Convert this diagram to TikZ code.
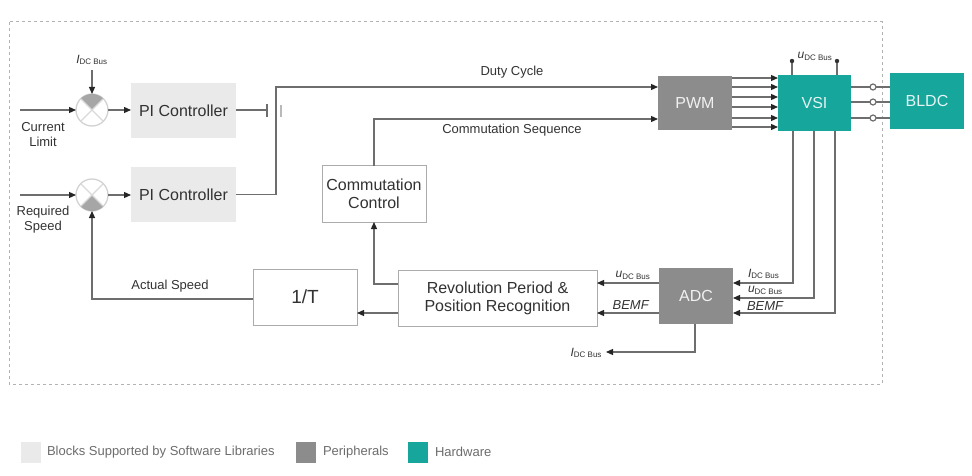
\documentclass[tikz,border=0pt]{standalone}
\usepackage{fontspec}
\setmainfont{Liberation Sans}
\usetikzlibrary{arrows.meta}
\definecolor{teal1}{RGB}{22,166,155}
\definecolor{dgray}{RGB}{140,140,140}
\definecolor{lgray}{RGB}{234,234,234}
\definecolor{lnc}{RGB}{110,110,110}
\definecolor{txt}{RGB}{50,50,50}
\newcommand\Ibus{\textit{I}\textsubscript{DC Bus}}
\newcommand\Ubus{\textit{u}\textsubscript{DC Bus}}
\begin{document}
\begin{tikzpicture}[x=1pt,y=-1pt,
  every node/.style={outer sep=0pt, text=txt},
  ln/.style={draw=lnc, line width=1.2pt},
  arr/.style={ln, -{Triangle[length=7pt,width=6pt,color=black!85]}},
  lab/.style={font=\fontsize{13}{15}\selectfont, inner sep=1pt},
  sub/.style={font=\fontsize{12}{14}\selectfont, inner sep=1pt},
  bx/.style={minimum width=#1, minimum height=56pt, inner sep=0pt, font=\fontsize{16}{18}\selectfont},
  sw/.style={bx=#1, fill=lgray},
  per/.style={bx=#1, fill=dgray, text=white!88!dgray},
  hw/.style={bx=#1, fill=teal1, text=white!88!teal1},
  wb/.style={bx=#1, draw=gray!65, line width=1pt, fill=white, align=center},
  sumj/.style={circle, draw=gray!35, line width=1.3pt, minimum size=32pt, inner sep=0pt, fill=white},
  leg/.style={minimum width=20pt, minimum height=21pt, inner sep=0pt},
  legt/.style={lab, anchor=west, text=gray!85!black},
]
\useasboundingbox (0,0) rectangle (972,476);
% frame
\draw[gray!60, line width=1pt, dash pattern=on 3pt off 3pt] (9,22) rectangle (882,384);

% blocks
\node[sw=105pt, minimum height=55pt] (pi1) at (183.5,110.5) {PI Controller};
\node[sw=105pt, minimum height=55pt] (pi2) at (183.5,194.5) {PI Controller};
\node[wb=104pt] (cc) at (374,194) {Commutation\\Control};
\node[per=74pt, minimum height=54pt] (pwm) at (695,103) {PWM};
\node[hw=73pt] (vsi) at (814.5,103) {VSI};
\node[hw=74pt] (bldc) at (927,101) {BLDC};
\node[per=74pt] (adc) at (696,296) {ADC};
\node[wb=199pt] (rev) at (497.5,298) {Revolution Period \&\\Position Recognition};
\node[wb=104pt, font=\fontsize{19}{22}\selectfont] (tt) at (305,297) {1/T};

% summing junctions
\node[sumj] (s1) at (92,110) {};
\node[sumj] (s2) at (92,195) {};
\fill[gray!70] (s1.center) \foreach \a in {45,50,...,135} {-- (s1.\a)} -- cycle;
\fill[gray!70] (s2.center) \foreach \a in {225,230,...,315} {-- (s2.\a)} -- cycle;
\draw[gray!30, line width=1.2pt] (s1.45) -- (s1.225) (s1.135) -- (s1.315);
\draw[gray!30, line width=1.2pt] (s2.45) -- (s2.225) (s2.135) -- (s2.315);

% inputs
\coordinate (cl) at (20,110);
\coordinate (rs) at (20,195);
\draw[arr] (cl) -- (s1.west);
\draw[arr] (rs) -- (s2.west);
\node[lab, align=center] (cltxt) at (43,135) {Current\\Limit};
\node[lab, align=center] (rstxt) at (43,220) {Required\\Speed};
\node[sub] (ib1) at (92,60) {\Ibus};
\draw[arr] ([yshift=-4pt]ib1.south) -- (s1.north);
\draw[arr] (s1.east) -- (s1.east -| pi1.west);
\draw[arr] (s2.east) -- (s2.east -| pi2.west);

% switch
\coordinate (sw1) at (267,110);
\draw[ln] (pi1.east |- sw1) -- (sw1);
\draw[ln] (267,104) -- (267,117);
\draw[ln, draw=gray!55] (281,105) -- (281,117);

% duty cycle and commutation sequence
\coordinate (j1) at (276,87);
\draw[arr] (pi2.east) -- (pi2.east -| j1) -- (j1) -- (j1 -| pwm.west);
\node[lab] (dutytxt) at (512,72) {Duty Cycle};
\coordinate (j2) at (374,119);
\draw[arr] (cc.north) -- (j2) -- (j2 -| pwm.west);
\node[lab] (cstxt) at (512,130) {Commutation Sequence};

% PWM -> VSI
\foreach \dy in {25,16,6,-4,-15,-24}
  \draw[arr] ([yshift=\dy pt]pwm.east) -- ([yshift=\dy pt]vsi.west);

% u DC bus on VSI
\coordinate (ud1) at (792,61);
\coordinate (ud2) at (837,61);
\draw[ln] (ud1 |- vsi.north) -- (ud1);
\draw[ln] (ud2 |- vsi.north) -- (ud2);
\fill[black!80] (ud1) circle[radius=2.2pt];
\fill[black!80] (ud2) circle[radius=2.2pt];
\node[sub] (udtxt) at (815,56) {\Ubus};

% VSI -> BLDC
\foreach \yy in {87,102,118} {
  \coordinate (o) at (873,\yy);
  \draw[ln] (vsi.east |- o) -- ([xshift=-3pt]o);
  \draw[ln, fill=white] (o) circle[radius=3pt];
  \draw[ln] ([xshift=3pt]o) -- (o -| bldc.west);
}

% VSI -> ADC
\foreach \xx/\yy in {793/283, 814/298, 835/313} {
  \coordinate (d) at (\xx,\yy);
  \draw[arr] (d |- vsi.south) -- (d) -- (d -| adc.east);
}
\node[sub, anchor=west] (ia) at (747,274) {\Ibus};
\node[sub, anchor=west] (ua) at (747,290) {\Ubus};
\node[lab, anchor=west] (ba) at (746,306) {\textit{BEMF}};

% ADC -> Rev
\coordinate (a1) at (640,283);
\coordinate (a2) at (640,313);
\draw[arr] (adc.west |- a1) -- (rev.east |- a1);
\draw[arr] (adc.west |- a2) -- (rev.east |- a2);
\node[sub] (ub) at (633,275) {\Ubus};
\node[lab] (bb) at (631,305) {\textit{BEMF}};

% Rev -> 1/T, Rev -> CC
\coordinate (r1) at (380,313);
\draw[arr] (rev.west |- r1) -- (tt.east |- r1);
\coordinate (j3) at (374,284);
\draw[arr] (rev.west |- j3) -- (j3) -- (cc.south);

% 1/T -> s2
\coordinate (j4) at (92,299);
\draw[arr] (tt.west |- j4) -- (j4) -- (s2.south);
\node[lab] (astxt) at (170,286) {Actual Speed};

% ADC -> I DC bus out
\coordinate (j5) at (695,352);
\coordinate (ibo) at (606,352);
\draw[arr] (j5 |- adc.south) -- (j5) -- (ibo);
\node[sub, anchor=east] (ic) at (603,353) {\Ibus};

% legend
\node[leg, fill=lgray] (lg1) at (30.5,452) {};
\node[legt] (lt1) at (46,452) {Blocks Supported by Software Libraries};
\node[leg, fill=dgray] (lg2) at (306,452) {};
\node[legt] (lt2) at (322,452) {Peripherals};
\node[leg, fill=teal1] (lg3) at (418,452) {};
\node[legt] (lt3) at (434,452) {Hardware};
\end{tikzpicture}
\end{document}
